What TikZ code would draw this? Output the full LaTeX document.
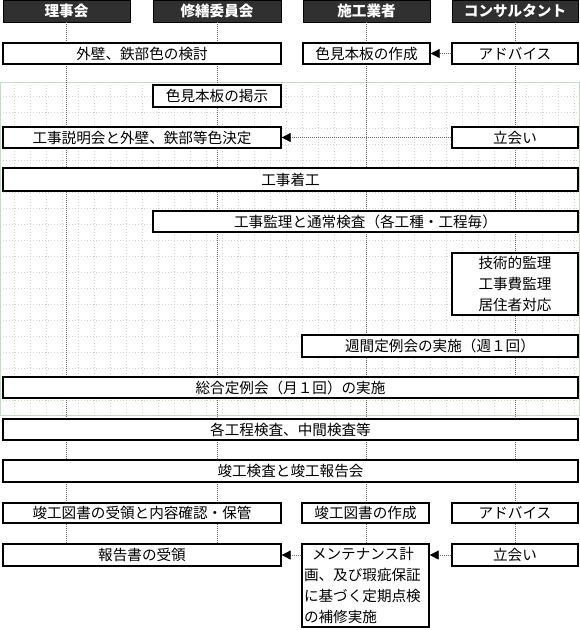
\documentclass[tikz,border=0pt]{standalone}
\usepackage{fontspec}
\setmainfont{Noto Sans CJK JP}
\usetikzlibrary{arrows.meta}
\definecolor{gridgreen}{RGB}{196,220,196}
\definecolor{lanegray}{RGB}{110,110,110}
\definecolor{hdrfill}{RGB}{48,48,48}
\tikzset{
  box/.style={draw=black, line width=1.3pt, fill=white, inner sep=0pt, text=black,
    font=\fontsize{14.6}{21}\selectfont},
  hdr/.style={fill=hdrfill, draw=black, line width=0.8pt, text=white, inner sep=0pt,
    font=\fontsize{14.6}{16}\selectfont\bfseries},
  lane/.style={draw=lanegray, line width=0.8pt, dash pattern=on 1pt off 1pt},
  gridln/.style={draw=gridgreen, line width=0.7pt, dash pattern=on 1pt off 2pt},
  conn/.style={draw=lanegray, line width=0.8pt, dash pattern=on 1pt off 1pt,
    -{Triangle[length=9pt,width=9pt,black]}},
}
\newcommand\mybox[7]{%
  \pgfmathsetmacro\bw{#5-#3}\pgfmathsetmacro\bh{#6-#4}%
  \pgfmathsetmacro\bcx{(#3+#5)/2}\pgfmathsetmacro\bcy{(#4+#6)/2}%
  \node[#1, minimum width=\bw pt, minimum height=\bh pt] (#2) at (\bcx,\bcy) {#7};}
\begin{document}
\begin{tikzpicture}[x=1pt,y=-1pt]
\useasboundingbox (0,0) rectangle (580,630);
% green grid area
\foreach \gx in {14,30,...,574} \draw[gridln] (\gx,82) -- (\gx,415);
\foreach \gy in {96,112,...,400} \draw[gridln] (0,\gy) -- (579,\gy);
\draw[draw=gridgreen, line width=1pt] (0.5,82) rectangle (579.5,415);
% headers
\mybox{hdr}{h1}{3}{0}{130}{22}{理事会}
\mybox{hdr}{h2}{153}{0}{281}{22}{修繕委員会}
\mybox{hdr}{h3}{303}{0}{430}{22}{施工業者}
\mybox{hdr}{h4}{452}{0}{578}{22}{コンサルタント}
% lane lines (behind boxes)
\coordinate (laneend) at (0,544);
\foreach \h in {h1,h2,h3,h4} \draw[lane] (\h.south) -- (\h.south |- laneend);
% rows
\mybox{box}{gaiheki}{3}{43}{281}{64}{外壁、鉄部色の検討}
\mybox{box}{mihon}{303}{43}{430}{64}{色見本板の作成}
\mybox{box}{adv1}{452}{43}{578}{64}{アドバイス}
\mybox{box}{keiji}{153}{85}{281}{107}{色見本板の掲示}
\mybox{box}{setsumei}{3}{127}{281}{148}{工事説明会と外壁、鉄部等色決定}
\mybox{box}{tachiai1}{452}{127}{578}{148}{立会い}
\mybox{box}{chakko}{3}{168}{578}{191}{工事着工}
\mybox{box}{kanri}{153}{211}{578}{232}{工事監理と通常検査（各工種・工程毎）}
\mybox{box,align=center}{gijutsu}{452}{253}{578}{315}{技術的監理\\工事費監理\\居住者対応}
\mybox{box}{shukan}{302}{335}{578}{357}{週間定例会の実施（週１回）}
\mybox{box}{sogo}{3}{377}{578}{398}{総合定例会（月１回）の実施}
\mybox{box}{kakukotei}{3}{419}{578}{440}{各工程検査、中間検査等}
\mybox{box}{shunko}{3}{460}{578}{482}{竣工検査と竣工報告会}
\mybox{box}{zusho}{3}{503}{281}{523}{竣工図書の受領と内容確認・保管}
\mybox{box}{sakusei}{302}{503}{429}{523}{竣工図書の作成}
\mybox{box}{adv2}{452}{503}{578}{523}{アドバイス}
\mybox{box}{hokoku}{3}{544}{281}{566}{報告書の受領}
\mybox{box,align=left,text width=123pt}{mainte}{302}{544}{429}{627}{\hspace*{8pt}メンテナンス計\\画、及び瑕疵保証\\に基づく定期点検\\の補修実施}
\mybox{box}{tachiai2}{452}{544}{578}{566}{立会い}
% connectors
\draw[conn] (adv1.west) -- (mihon.east);
\draw[conn] (tachiai1.west) -- (setsumei.east);
\draw[conn] (tachiai2.west) -- (tachiai2.west -| mainte.east);
\draw[conn] (hokoku.east -| mainte.west) -- (hokoku.east);
\end{tikzpicture}
\end{document}
